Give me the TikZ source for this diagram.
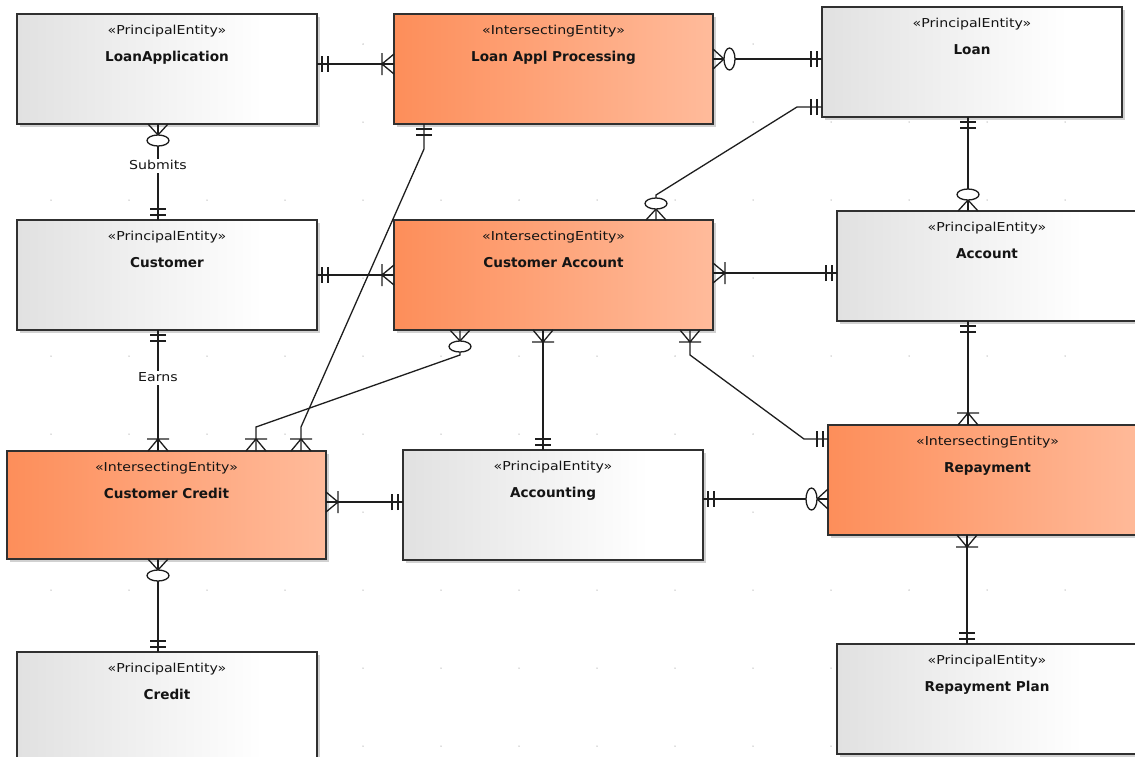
\documentclass[tikz,border=0pt]{standalone}
\usepackage{fontspec}
\setmainfont{DejaVu Sans}
\newfontfamily\stfont[FakeStretch=1.15]{DejaVu Sans}
\usetikzlibrary{shadows}

\definecolor{edge}{HTML}{303030}
\definecolor{link}{HTML}{1E1E1E}
\definecolor{txt}{HTML}{141414}
\definecolor{pleft}{HTML}{E1E1E1}
\definecolor{ileft}{HTML}{FD8E5A}
\definecolor{iright}{HTML}{FFBB9B}
\definecolor{griddot}{HTML}{BDBDBD}

\pgfdeclarehorizontalshading{princshade}{100bp}{color(0bp)=(pleft); color(25bp)=(pleft); color(66bp)=(white); color(100bp)=(white)}
\pgfdeclarehorizontalshading{isectshade}{100bp}{color(0bp)=(ileft); color(25bp)=(ileft); color(75bp)=(iright); color(100bp)=(iright)}

% ER ends: exactly one, one or many, zero or many
\pgfdeclarearrow{
  name = erone,
  setup code = {
    \pgfarrowssettipend{0pt}
    \pgfarrowssetlineend{0pt}
    \pgfarrowssetbackend{-12pt}
    \pgfarrowssetvisualbackend{-12pt}
    \pgfarrowshullpoint{0pt}{8pt}
    \pgfarrowshullpoint{0pt}{-8pt}
    \pgfarrowshullpoint{-12pt}{8pt}
    \pgfarrowshullpoint{-12pt}{-8pt}
  },
  drawing code = {
    \pgfpathmoveto{\pgfqpoint{-5pt}{-8pt}}
    \pgfpathlineto{\pgfqpoint{-5pt}{8pt}}
    \pgfpathmoveto{\pgfqpoint{-11pt}{-8pt}}
    \pgfpathlineto{\pgfqpoint{-11pt}{8pt}}
    \pgfusepathqstroke
  }
}
\pgfdeclarearrow{
  name = ermany,
  setup code = {
    \pgfarrowssettipend{0pt}
    \pgfarrowssetlineend{0pt}
    \pgfarrowssetbackend{-12pt}
    \pgfarrowssetvisualbackend{-12pt}
    \pgfarrowshullpoint{0pt}{11pt}
    \pgfarrowshullpoint{0pt}{-11pt}
    \pgfarrowshullpoint{-12pt}{11pt}
    \pgfarrowshullpoint{-12pt}{-11pt}
  },
  drawing code = {
    \pgfpathmoveto{\pgfqpoint{0pt}{10pt}}
    \pgfpathlineto{\pgfqpoint{-12pt}{0pt}}
    \pgfpathlineto{\pgfqpoint{0pt}{-10pt}}
    \pgfpathmoveto{\pgfqpoint{-12pt}{11pt}}
    \pgfpathlineto{\pgfqpoint{-12pt}{-11pt}}
    \pgfusepathqstroke
  }
}
\pgfdeclarearrow{
  name = erzero,
  setup code = {
    \pgfarrowssettipend{0pt}
    \pgfarrowssetlineend{0pt}
    \pgfarrowssetbackend{-22pt}
    \pgfarrowssetvisualbackend{-22pt}
    \pgfarrowshullpoint{0pt}{11pt}
    \pgfarrowshullpoint{0pt}{-11pt}
    \pgfarrowshullpoint{-22pt}{11pt}
    \pgfarrowshullpoint{-22pt}{-11pt}
  },
  drawing code = {
    \pgfpathmoveto{\pgfqpoint{0pt}{10pt}}
    \pgfpathlineto{\pgfqpoint{-11pt}{0pt}}
    \pgfpathlineto{\pgfqpoint{0pt}{-10pt}}
    \pgfusepathqstroke
    \pgfpathellipse{\pgfqpoint{-16.5pt}{0pt}}{\pgfqpoint{5.5pt}{0pt}}{\pgfqpoint{0pt}{11pt}}
    \pgfsetfillcolor{white}
    \pgfusepathqfillstroke
  }
}

\tikzset{
  ent/.style={draw=edge, line width=1.5pt, anchor=north west, inner sep=0pt, outer sep=0pt,
    minimum width=300pt, minimum height=110pt,
    drop shadow={shadow xshift=2.5pt, shadow yshift=-2.5pt, fill=black!18, opacity=1}},
  princ/.style={ent, shade, shading=princshade},
  isect/.style={ent, shade, shading=isectshade, minimum width=319pt},
  stp/.style={font=\stfont\fontsize{12.3}{14}\selectfont, text=txt, text height=1.6ex, text depth=.4ex, inner sep=0pt},
  nom/.style={font=\bfseries\fontsize{13.6}{16}\selectfont, text=txt, text height=1.6ex, text depth=.4ex, inner sep=0pt},
  lbl/.style={stp, fill=white, inner sep=1.5pt},
  rel/.style={draw=link, line width=1.3pt},
}

\begin{document}
\begin{tikzpicture}[x=1pt, y=-1pt]
  \useasboundingbox (0,0) rectangle (1135,756);
  \clip (0,0) rectangle (1135,756);

  % grid
  \foreach \i in {0,...,14}
    \foreach \j in {0,...,9}
      \fill[griddot] (51+78*\i,44+78*\j) circle[radius=0.75pt];

  % entities
  \node[princ] (la)   at (17,14)   {}; \node[stp] (la-s)   at ([yshift=-17pt]la.north)   {«PrincipalEntity»};   \node[nom] (la-n)   at ([yshift=-44.5pt]la.north)   {LoanApplication};
  \node[isect] (lap)  at (394,14)  {}; \node[stp] (lap-s)  at ([yshift=-17pt]lap.north)  {«IntersectingEntity»}; \node[nom] (lap-n)  at ([yshift=-44.5pt]lap.north)  {Loan Appl Processing};
  \node[princ] (loan) at (822,7)   {}; \node[stp] (loan-s) at ([yshift=-17pt]loan.north) {«PrincipalEntity»};   \node[nom] (loan-n) at ([yshift=-44.5pt]loan.north) {Loan};
  \node[princ] (cu)   at (17,220)  {}; \node[stp] (cu-s)   at ([yshift=-17pt]cu.north)   {«PrincipalEntity»};   \node[nom] (cu-n)   at ([yshift=-44.5pt]cu.north)   {Customer};
  \node[isect] (ca)   at (394,220) {}; \node[stp] (ca-s)   at ([yshift=-17pt]ca.north)   {«IntersectingEntity»}; \node[nom] (ca-n)   at ([yshift=-44.5pt]ca.north)   {Customer Account};
  \node[princ] (acc)  at (837,211) {}; \node[stp] (acc-s)  at ([yshift=-17pt]acc.north)  {«PrincipalEntity»};   \node[nom] (acc-n)  at ([yshift=-44.5pt]acc.north)  {Account};
  \node[isect, minimum height=108pt] (cc) at (7,451) {};
                                       \node[stp] (cc-s)   at ([yshift=-17pt]cc.north)   {«IntersectingEntity»}; \node[nom] (cc-n)   at ([yshift=-44.5pt]cc.north)   {Customer Credit};
  \node[princ] (acg)  at (403,450) {}; \node[stp] (acg-s)  at ([yshift=-17pt]acg.north)  {«PrincipalEntity»};   \node[nom] (acg-n)  at ([yshift=-44.5pt]acg.north)  {Accounting};
  \node[isect] (rep)  at (828,425) {}; \node[stp] (rep-s)  at ([yshift=-17pt]rep.north)  {«IntersectingEntity»}; \node[nom] (rep-n)  at ([yshift=-44.5pt]rep.north)  {Repayment};
  \node[princ] (cr)   at (17,652)  {}; \node[stp] (cr-s)   at ([yshift=-17pt]cr.north)   {«PrincipalEntity»};   \node[nom] (cr-n)   at ([yshift=-44.5pt]cr.north)   {Credit};
  \node[princ] (plan) at (837,644) {}; \node[stp] (plan-s) at ([yshift=-17pt]plan.north) {«PrincipalEntity»};   \node[nom] (plan-n) at ([yshift=-44.5pt]plan.north) {Repayment Plan};

  % relationships
  \draw[rel, erone-ermany]  (la.east |- 0,64) -- (lap.west |- 0,64);
  \draw[rel, erzero-erone]  (lap.east |- 0,59) -- (loan.west |- 0,59);
  \draw[rel, erone-ermany]  (lap.south -| 424,0) -- (424,149) -- (301,427) -- (cc.north -| 301,0);
  \draw[rel, erzero-erone]  (ca.north -| 656,0) -- (656,195) -- (797,107) -- (loan.west |- 0,107);
  \draw[rel, erzero-erone]  (la.south -| 158,0) -- node[lbl, pos=.44] (sub) {Submits} (cu.north -| 158,0);
  \draw[rel, erone-ermany]  (cu.east |- 0,275) -- (ca.west |- 0,275);
  \draw[rel, ermany-erone]  (ca.east |- 0,273) -- (acc.west |- 0,273);
  \draw[rel, erone-erzero]  (loan.south -| 968,0) -- (acc.north -| 968,0);
  \draw[rel, erone-ermany]  (cu.south -| 158,0) -- node[lbl, pos=.4] (earn) {Earns} (cc.north -| 158,0);
  \draw[rel, erzero-ermany] (ca.south -| 460,0) -- (460,355) -- (256,427) -- (cc.north -| 256,0);
  \draw[rel, ermany-erone]  (ca.south -| 543,0) -- (acg.north -| 543,0);
  \draw[rel, ermany-erone]  (ca.south -| 690,0) -- (690,355) -- (804,439) -- (rep.west |- 0,439);
  \draw[rel, ermany-erone]  (cc.east |- 0,502) -- (acg.west |- 0,502);
  \draw[rel, erone-erzero]  (acg.east |- 0,499) -- (rep.west |- 0,499);
  \draw[rel, erone-ermany]  (acc.south -| 968,0) -- (rep.north -| 968,0);
  \draw[rel, erzero-erone]  (cc.south -| 158,0) -- (cr.north -| 158,0);
  \draw[rel, ermany-erone]  (rep.south -| 967,0) -- (plan.north -| 967,0);
\end{tikzpicture}
\end{document}
